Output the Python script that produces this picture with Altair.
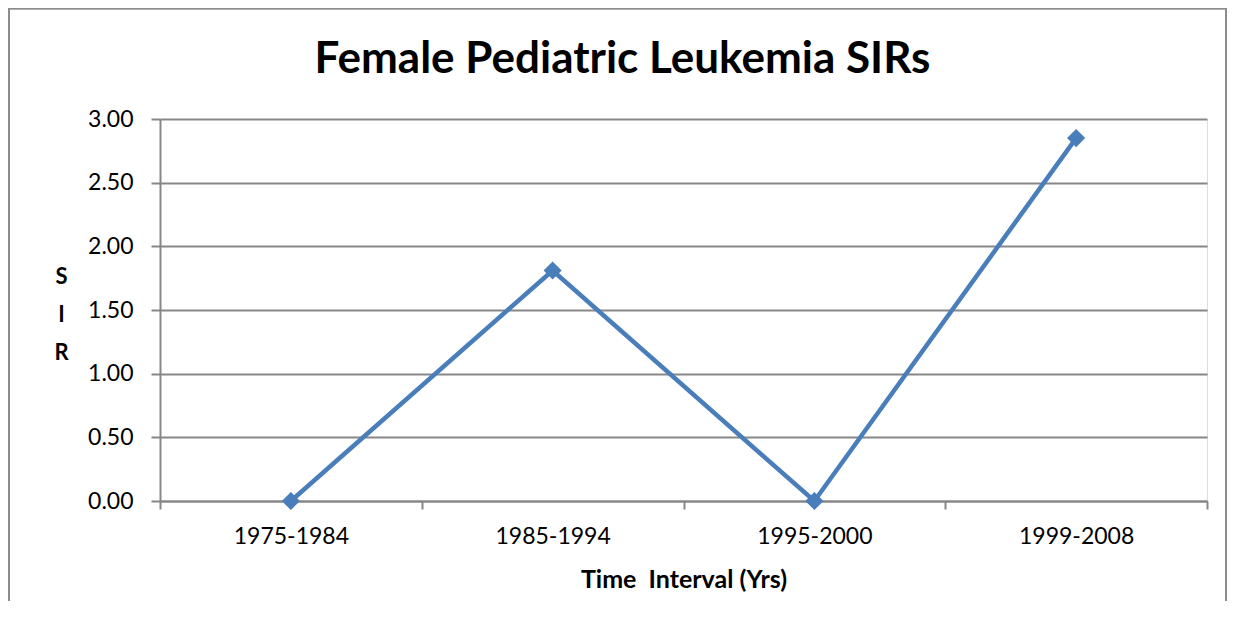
import altair as alt
import pandas as pd

categories = ["1975-1984", "1985-1994", "1995-2000", "1999-2008"]
sir_values = [0.0, 1.81, 0.0, 2.85]
y_ticks = [0, 0.5, 1.0, 1.5, 2.0, 2.5, 3.0]

df = pd.DataFrame({"interval": categories, "sir": sir_values})

FONT = "Lato"
GRAY = "#878787"
BLUE = "#4a7ebb"

x_enc = alt.X(
    "interval:N",
    sort=categories,
    scale=alt.Scale(paddingInner=0, paddingOuter=0),
    axis=alt.Axis(
        title="Time\u00a0\u00a0Interval (Yrs)",
        titleFont=FONT, titleFontSize=25, titleFontWeight="bold", titleColor="black",
        titleBaseline="alphabetic", titleY=86,
        labelFont=FONT, labelFontSize=23, labelColor="black", labelAngle=0,
        labelPadding=16,
        tickBand="extent", tickColor=GRAY, tickWidth=2, tickSize=8,
        domainColor=GRAY, domainWidth=2, grid=False,
    ),
)

y_enc = alt.Y(
    "sir:Q",
    scale=alt.Scale(domain=[0, 3], nice=False),
    axis=alt.Axis(
        title=["S", "I", "R"],
        titleAngle=0, titleFont=FONT, titleFontSize=22, titleFontWeight="bold",
        titleColor="black", titleAlign="center", titleBaseline="alphabetic",
        titleX=-99, titleY=164, titleLineHeight=38,
        values=y_ticks, format=".2f",
        labelFont=FONT, labelFontSize=23, labelColor="black", labelPadding=18,
        tickColor=GRAY, tickWidth=2, tickSize=9,
        domainColor=GRAY, domainWidth=2,
        grid=True, gridColor=GRAY, gridWidth=2,
    ),
)

line = alt.Chart(df).mark_line(
    color=BLUE, strokeWidth=4.5,
    point=alt.OverlayMarkDef(shape="diamond", size=330, filled=True, color=BLUE, opacity=1),
).encode(x=x_enc, y=y_enc)

border = alt.Chart(df).mark_rect(
    fill=None, stroke="#8c8c8c", strokeWidth=1.5, clip=False
).encode(
    x=alt.value(-151), x2=alt.value(1066),
    y=alt.value(-110.5), y2=alt.value(700),
)

chart = alt.layer(border, line).properties(
    width=1047,
    height=382,
    padding={"left": 152, "top": 111, "right": 20, "bottom": 100},
    autosize=alt.AutoSizeParams(type="none"),
    title=alt.Title(
        "Female Pediatric Leukemia SIRs",
        font=FONT, fontSize=44, fontWeight="bold", color="black",
        anchor="middle", frame="group", dx=-61, baseline="alphabetic",
        offset=0, dy=109,
    ),
).configure_view(stroke=None).configure(background="white")

chart.save("out.html", embed_options={"renderer": "svg", "actions": False})
